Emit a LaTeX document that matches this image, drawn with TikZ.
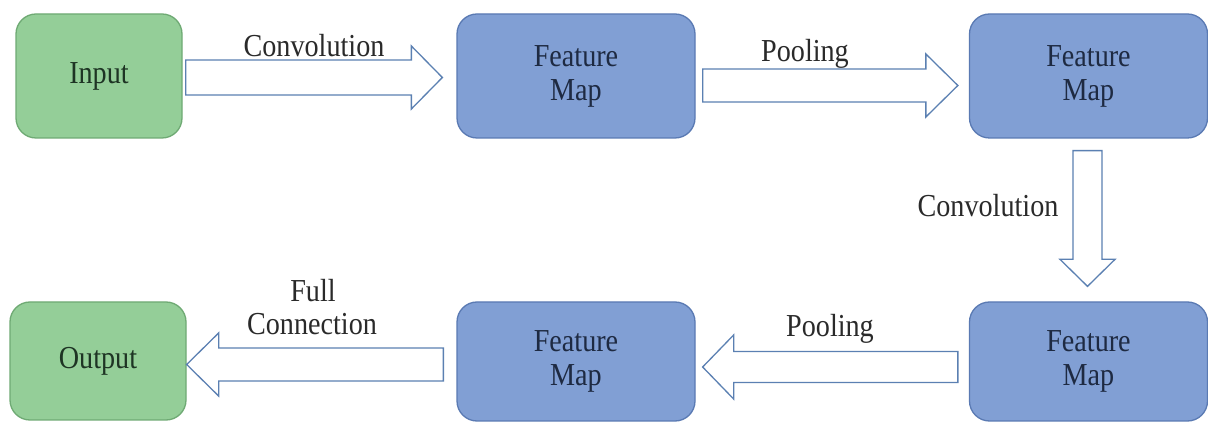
\documentclass[tikz,border=0pt]{standalone}
\usepackage{fontspec}
\setmainfont{Liberation Serif}[FakeStretch=0.88]
\usetikzlibrary{calc}
\definecolor{gfill}{HTML}{94CE98}
\definecolor{gline}{HTML}{6FAA74}
\definecolor{bfill}{HTML}{819FD4}
\definecolor{bline}{HTML}{5A7AB3}
\definecolor{aline}{HTML}{5B80B2}
\definecolor{gtext}{HTML}{1E3424}
\definecolor{btext}{HTML}{1E2A42}
\definecolor{ltext}{HTML}{2A2A2A}
\newcommand{\rblockarrow}[5]{%
  \draw[barrow] let \p1=(#1), \p2=(#2) in
    (\x1,\y2+#3) -- (\x2-#5,\y2+#3) -- (\x2-#5,\y2+#4) -- (\x2,\y2) --
    (\x2-#5,\y2-#4) -- (\x2-#5,\y2-#3) -- (\x1,\y2-#3) -- cycle;}
\newcommand{\lblockarrow}[5]{%
  \draw[barrow] let \p1=(#1), \p2=(#2) in
    (\x1,\y2+#3) -- (\x2+#5,\y2+#3) -- (\x2+#5,\y2+#4) -- (\x2,\y2) --
    (\x2+#5,\y2-#4) -- (\x2+#5,\y2-#3) -- (\x1,\y2-#3) -- cycle;}
\newcommand{\dblockarrow}[5]{%
  \draw[barrow] let \p1=(#1), \p2=(#2) in
    (\x2-#3,\y1) -- (\x2-#3,\y2+#5) -- (\x2-#4,\y2+#5) -- (\x2,\y2) --
    (\x2+#4,\y2+#5) -- (\x2+#3,\y2+#5) -- (\x2+#3,\y1) -- cycle;}
\begin{document}
\begin{tikzpicture}[x=1pt,y=1pt,
  txt/.style={font=\fontsize{32}{34}\selectfont, align=center, inner sep=0pt},
  gbox/.style={txt, draw=gline, fill=gfill, text=gtext, line width=1.3pt, rounded corners=20pt},
  bbox/.style={txt, draw=bline, fill=bfill, text=btext, line width=1.3pt, rounded corners=20pt, minimum width=238pt},
  barrow/.style={draw=aline, fill=white, line width=1.3pt},
  lbl/.style={font=\fontsize{32}{34}\selectfont, text=ltext, inner sep=0pt, anchor=base}]
\fill[white] (0,0) rectangle (1208,423);
\useasboundingbox (0,0) rectangle (1208,423);
% boxes
\node[gbox, minimum width=166pt, minimum height=124pt] (in) at (99,347) {Input};
\node[bbox, minimum height=124pt] (fm1) at (576,347) {Feature\\Map};
\node[bbox, minimum height=124pt] (fm2) at (1088.5,347) {Feature\\Map};
\node[bbox, minimum height=119pt] (fm3) at (1088.5,61.5) {Feature\\Map};
\node[bbox, minimum height=119pt] (fm4) at (576,61.5) {Feature\\Map};
\node[gbox, minimum width=176pt, minimum height=118pt] (out) at (98,62) {Output};
% arrow end points
\coordinate (a1s) at ($(in.east)+(3,-1.5)$);
\coordinate (a1t) at ($(fm1.west)+(-14,-1.5)$);
\coordinate (a2s) at ($(fm1.east)+(7,-9.5)$);
\coordinate (a2t) at ($(fm2.west)+(-11,-9.5)$);
\coordinate (a3s) at ($(fm2.south)+(-1,-12)$);
\coordinate (a3t) at ($(fm3.north)+(-1,15)$);
\coordinate (a4s) at ($(fm3.west)+(-11,-5.5)$);
\coordinate (a4t) at ($(fm4.east)+(7,-5.5)$);
\coordinate (a5s) at ($(fm4.west)+(-13,-3.5)$);
\coordinate (a5t) at ($(out.east)+(0,-3.5)$);
% arrows
\rblockarrow{a1s}{a1t}{17.5pt}{31.5pt}{31pt}
\rblockarrow{a2s}{a2t}{16.5pt}{31.5pt}{32pt}
\dblockarrow{a3s}{a3t}{14.5pt}{27.5pt}{27pt}
\lblockarrow{a4s}{a4t}{15.5pt}{32pt}{31pt}
\lblockarrow{a5s}{a5t}{16.5pt}{31.5pt}{32pt}
% labels
\node[lbl] (l1) at (314,366) {Convolution};
\node[lbl] (l2) at (805,361) {Pooling};
\node[lbl] (l3) at (988,206) {Convolution};
\node[lbl] (l4) at (830,86) {Pooling};
\node[lbl] (l5) at (313,121) {Full};
\node[lbl] (l6) at (312,88) {Connection};
\end{tikzpicture}
\end{document}
